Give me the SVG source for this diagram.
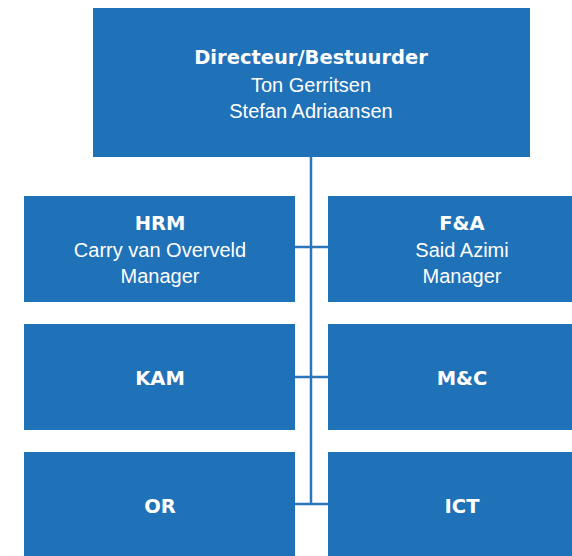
<svg xmlns="http://www.w3.org/2000/svg" width="572" height="556" viewBox="0 0 572 556">
<style>
.box{fill:#1f71b8}
.t{font-family:"DejaVu Sans","Noto Sans",sans-serif;font-weight:bold;font-size:19.5px;fill:#fff;text-anchor:middle}
.s{font-family:"Liberation Sans",Arial,sans-serif;font-size:20px;fill:#fff;text-anchor:middle}
.c{stroke:#2a76bb;stroke-width:2.5;fill:none}
</style>
<rect width="572" height="556" fill="#fff"/>
<g id="connectors">
<line class="c" x1="311" y1="157" x2="311" y2="504"/>
<line class="c" x1="295" y1="247" x2="328" y2="247"/>
<line class="c" x1="295" y1="377" x2="328" y2="377"/>
<line class="c" x1="295" y1="504" x2="328" y2="504"/>
</g>
<g id="directeur">
<rect class="box" x="93" y="8" width="437" height="149"/>
<text class="t" x="311" y="64">Directeur/Bestuurder</text>
<text class="s" x="311" y="92">Ton Gerritsen</text>
<text class="s" x="311" y="118">Stefan Adriaansen</text>
</g>
<g id="hrm">
<rect class="box" x="24" y="196" width="271" height="106"/>
<text class="t" x="160" y="230">HRM</text>
<text class="s" x="160" y="257">Carry van Overveld</text>
<text class="s" x="160" y="283">Manager</text>
</g>
<g id="fa">
<rect class="box" x="328" y="196" width="244" height="106"/>
<text class="t" x="462" y="230">F&amp;A</text>
<text class="s" x="462" y="257">Said Azimi</text>
<text class="s" x="462" y="283">Manager</text>
</g>
<g id="kam">
<rect class="box" x="24" y="324" width="271" height="106"/>
<text class="t" x="160" y="385">KAM</text>
</g>
<g id="mc">
<rect class="box" x="328" y="324" width="244" height="106"/>
<text class="t" x="462" y="385">M&amp;C</text>
</g>
<g id="or">
<rect class="box" x="24" y="452" width="271" height="104"/>
<text class="t" x="160" y="513">OR</text>
</g>
<g id="ict">
<rect class="box" x="328" y="452" width="244" height="104"/>
<text class="t" x="462" y="513">ICT</text>
</g>
</svg>
